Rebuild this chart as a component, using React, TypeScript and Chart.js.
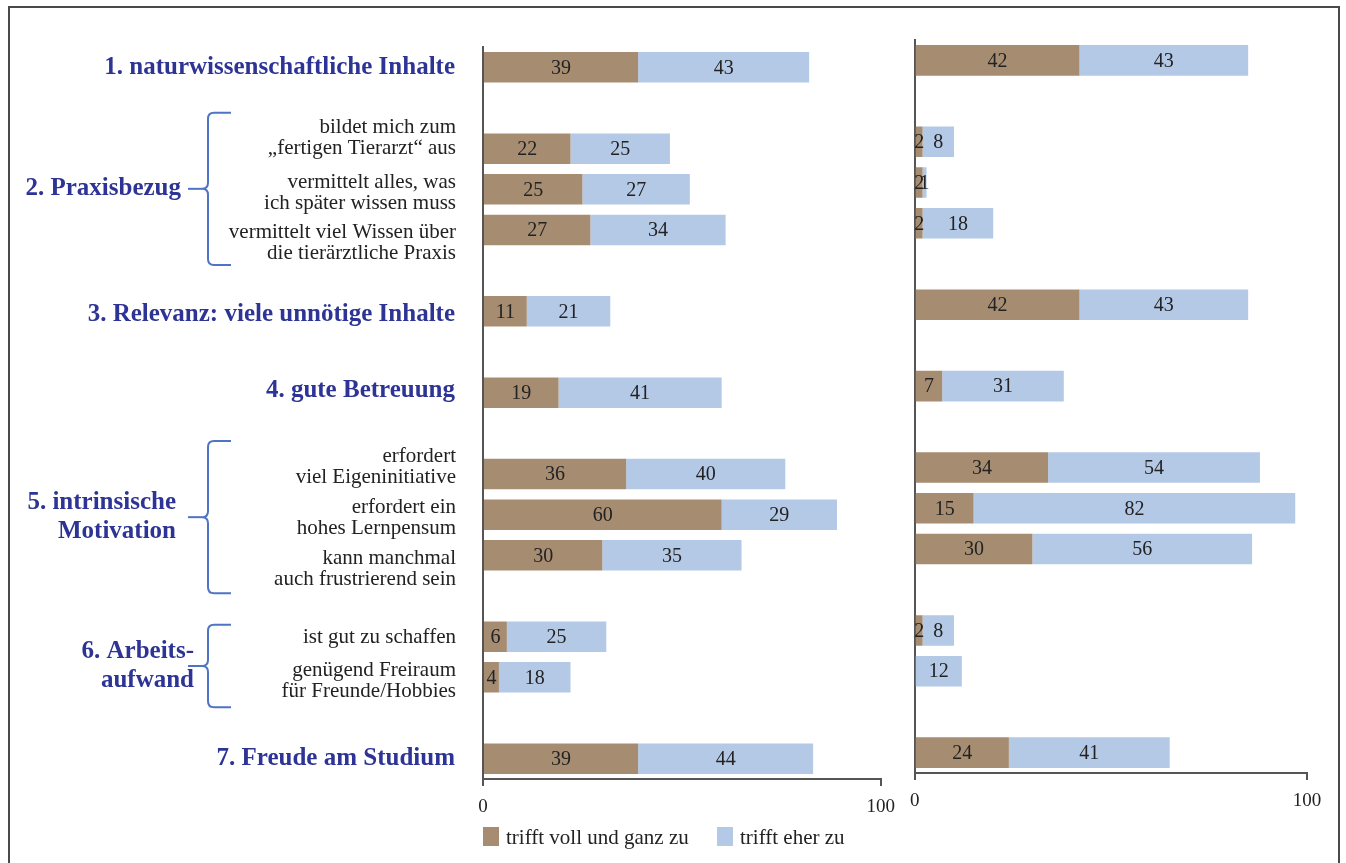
import React, { useEffect, useRef } from "react";
import { Chart, registerables } from "chart.js";

Chart.register(...registerables);

const SERIF = '"Liberation Serif", "Times New Roman", "DejaVu Serif", serif';

// ---- data ----
const rowLabels: (string[] | null)[] = [
  ["1. naturwissenschaftliche Inhalte"],
  null,
  ["bildet mich zum", "„fertigen Tierarzt“ aus"],
  ["vermittelt alles, was", "ich später wissen muss"],
  ["vermittelt viel Wissen über", "die tierärztliche Praxis"],
  null,
  ["3. Relevanz: viele unnötige Inhalte"],
  null,
  ["4. gute Betreuung"],
  null,
  ["erfordert", "viel Eigeninitiative"],
  ["erfordert ein", "hohes Lernpensum"],
  ["kann manchmal", "auch frustrierend sein"],
  null,
  ["ist gut zu schaffen"],
  ["genügend Freiraum", "für Freunde/Hobbies"],
  null,
  ["7. Freude am Studium"],
];
const mainRows = [0, 6, 8, 17];
const groupLabels = [
  ["2. Praxisbezug"],
  ["5. intrinsische", "Motivation"],
  ["6. Arbeits-", "aufwand"],
];
const groupFirstRow = [2, 10, 14];
const groupLastRow = [4, 12, 15];

const seriesNames = ["trifft voll und ganz zu", "trifft eher zu"];
const leftVoll = [39, null, 22, 25, 27, null, 11, null, 19, null, 36, 60, 30, null, 6, 4, null, 39];
const leftEher = [43, null, 25, 27, 34, null, 21, null, 41, null, 40, 29, 35, null, 25, 18, null, 44];
const rightVoll = [42, null, 2, 2, 2, null, 42, null, 7, null, 34, 15, 30, null, 2, 0, null, 24];
const rightEher = [43, null, 8, 1, 18, null, 43, null, 31, null, 54, 82, 56, null, 8, 12, null, 41];
const xTicks = [0, 100];

// ---- style ----
const BROWN = "#a68d72";
const BLUE = "#b4c9e6";
const NAVY = "#2d3495";
const BRACE = "#4e74c4";
const AXIS = "#555555";
const TEXT = "#222222";

// layout tweaks for the label column (pixels)
const subShift: Record<number, number> = { 2: -11, 3: 4, 4: 13, 10: -7, 11: 3, 12: 14, 14: 1, 15: 4 };
const mainShift: Record<number, number> = { 0: 0, 6: 3, 8: -2, 17: 0 };
const braceExt = [
  { top: 36, bottom: 35, labelRight: 181, dy: 0 },
  { top: 33, bottom: 38, labelRight: 176, dy: 0 },
  { top: 12, bottom: 30, labelRight: 194, dy: 0 },
];

const valueLabelsPlugin = {
  id: "valueLabels",
  afterDatasetsDraw(chart: any) {
    const ctx = chart.ctx;
    ctx.save();
    ctx.font = `20px ${SERIF}`;
    ctx.fillStyle = TEXT;
    ctx.textAlign = "center";
    ctx.textBaseline = "middle";
    chart.data.datasets.forEach((ds: any, di: number) => {
      const meta = chart.getDatasetMeta(di);
      meta.data.forEach((el: any, i: number) => {
        const v = ds.data[i];
        if (v == null || v === 0) return;
        const p = el.getCenterPoint();
        ctx.fillText(String(v), p.x, p.y + 1);
      });
    });
    ctx.restore();
  },
};

const rowLabelsPlugin = {
  id: "rowLabels",
  afterDraw(chart: any) {
    const ctx = chart.ctx;
    const y = chart.scales.y;
    ctx.save();
    ctx.textAlign = "right";
    ctx.textBaseline = "middle";
    rowLabels.forEach((lines, i) => {
      if (!lines) return;
      const cy = y.getPixelForValue(i);
      if (mainRows.includes(i)) {
        ctx.font = `bold 25px ${SERIF}`;
        ctx.fillStyle = NAVY;
        ctx.fillText(lines[0], 455, cy + (mainShift[i] || 0));
      } else {
        ctx.font = `21px ${SERIF}`;
        ctx.fillStyle = TEXT;
        const lh = 21;
        const c = cy + (subShift[i] || 0);
        const start = c - ((lines.length - 1) * lh) / 2;
        lines.forEach((t, k) => ctx.fillText(t, 456, start + k * lh));
      }
    });
    // group labels with braces
    groupLabels.forEach((lines, g) => {
      const ext = braceExt[g];
      const top = y.getPixelForValue(groupFirstRow[g]) - ext.top;
      const bottom = y.getPixelForValue(groupLastRow[g]) + ext.bottom;
      const mid = (top + bottom) / 2;
      const bx = 208;
      const r = 6;
      ctx.strokeStyle = BRACE;
      ctx.lineWidth = 2;
      ctx.beginPath();
      ctx.moveTo(231, top);
      ctx.lineTo(bx + r, top);
      ctx.quadraticCurveTo(bx, top, bx, top + r);
      ctx.lineTo(bx, mid - r);
      ctx.quadraticCurveTo(bx, mid, bx - r, mid);
      ctx.quadraticCurveTo(bx, mid, bx, mid + r);
      ctx.lineTo(bx, bottom - r);
      ctx.quadraticCurveTo(bx, bottom, bx + r, bottom);
      ctx.lineTo(231, bottom);
      ctx.stroke();
      ctx.beginPath();
      ctx.moveTo(188, mid);
      ctx.lineTo(bx - r, mid);
      ctx.stroke();
      ctx.font = `bold 25px ${SERIF}`;
      ctx.fillStyle = NAVY;
      const lh = 29;
      const start = mid + ext.dy - ((lines.length - 1) * lh) / 2;
      lines.forEach((t, k) => ctx.fillText(t, ext.labelRight, start + k * lh));
    });
    ctx.restore();
  },
};

function makeConfig(voll: (number | null)[], eher: (number | null)[], padding: any, withLabels: boolean): any {
  return {
    type: "bar",
    data: {
      labels: rowLabels.map((l) => (l ? l.join(" ") : "")),
      datasets: [
        { label: seriesNames[0], data: voll, backgroundColor: BROWN, borderWidth: 0, barPercentage: 0.75, categoryPercentage: 1 },
        { label: seriesNames[1], data: eher, backgroundColor: BLUE, borderWidth: 0, barPercentage: 0.75, categoryPercentage: 1 },
      ],
    },
    options: {
      indexAxis: "y",
      animation: false,
      responsive: false,
      events: [],
      layout: { padding },
      plugins: { legend: { display: false }, tooltip: { enabled: false } },
      scales: {
        x: {
          stacked: true,
          min: 0,
          max: 100,
          afterBuildTicks: (s: any) => {
            s.ticks = xTicks.map((v) => ({ value: v }));
          },
          ticks: { font: { family: SERIF, size: 19 }, color: TEXT, padding: 10, maxRotation: 0, autoSkip: false },
          grid: { display: true, drawOnChartArea: false, drawTicks: true, tickLength: 7, color: AXIS, lineWidth: 2 },
          border: { display: true, color: AXIS, width: 2 },
          afterFit: (s: any) => {
            s.height = 40;
          },
        },
        y: {
          stacked: true,
          ticks: { display: false },
          grid: { display: false },
          border: { display: true, color: AXIS, width: 2 },
          afterFit: (s: any) => {
            s.width = 0;
          },
        },
      },
    },
    plugins: withLabels ? [valueLabelsPlugin, rowLabelsPlugin] : [valueLabelsPlugin],
  };
}

export default function App() {
  const leftRef = useRef<HTMLCanvasElement>(null);
  const rightRef = useRef<HTMLCanvasElement>(null);

  useEffect(() => {
    const left = new Chart(
      leftRef.current as HTMLCanvasElement,
      makeConfig(leftVoll, leftEher, { left: 483, right: 24, top: 47, bottom: 44 }, true)
    );
    const right = new Chart(
      rightRef.current as HTMLCanvasElement,
      makeConfig(rightVoll, rightEher, { left: 13, right: 39, top: 40, bottom: 50 }, false)
    );
    return () => {
      left.destroy();
      right.destroy();
    };
  }, []);

  const legendText: React.CSSProperties = {
    position: "absolute",
    top: 825,
    fontFamily: SERIF,
    fontSize: 21,
    color: TEXT,
    lineHeight: "24px",
    whiteSpace: "nowrap",
  };

  return (
    <div style={{ position: "relative", width: 1346, height: 863, overflow: "hidden", background: "#fff" }}>
      <style>{"body{margin:0}"}</style>
      <div
        style={{
          position: "absolute",
          left: 8,
          top: 6,
          width: 1332,
          height: 900,
          border: "2px solid #4a4a4a",
          boxSizing: "border-box",
        }}
      />
      <canvas ref={leftRef} width={905} height={863} style={{ position: "absolute", left: 0, top: 0, width: 905, height: 863 }} />
      <canvas ref={rightRef} width={446} height={863} style={{ position: "absolute", left: 900, top: 0, width: 446, height: 863 }} />
      <div style={{ position: "absolute", left: 483, top: 827, width: 16, height: 19, background: BROWN }} />
      <div style={{ ...legendText, left: 506 }}>{seriesNames[0]}</div>
      <div style={{ position: "absolute", left: 717, top: 827, width: 16, height: 19, background: BLUE }} />
      <div style={{ ...legendText, left: 740 }}>{seriesNames[1]}</div>
    </div>
  );
}
